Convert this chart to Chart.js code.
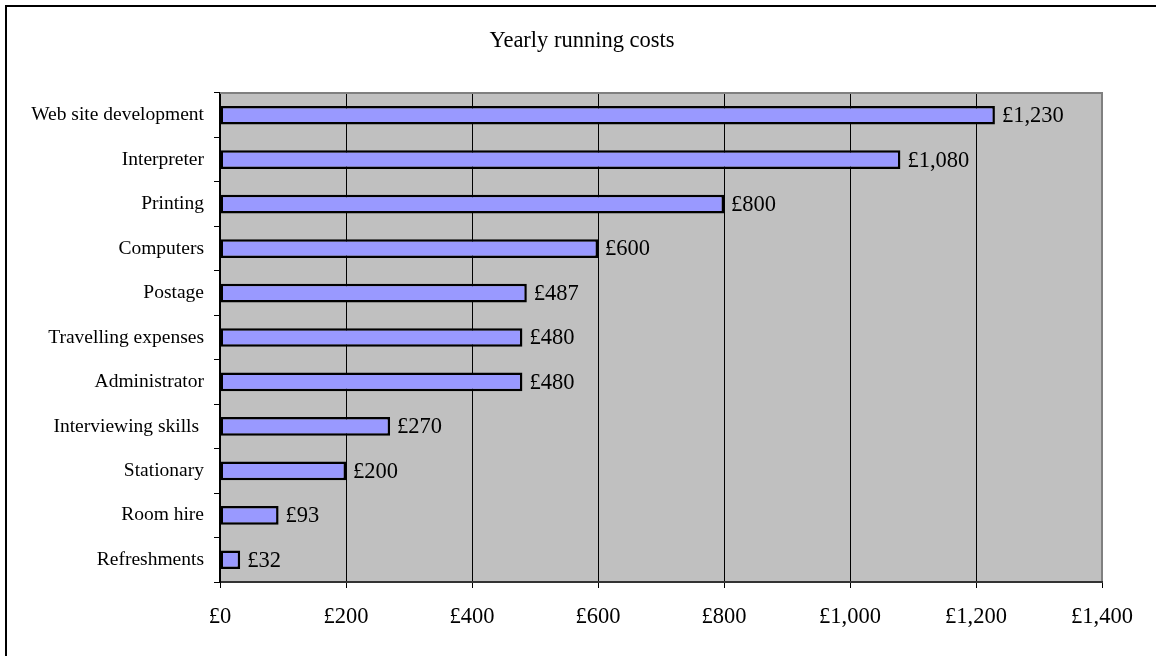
<!DOCTYPE html>
<html>
<head>
<meta charset="utf-8">
<script src="https://cdn.jsdelivr.net/npm/chart.js@4.4.1/dist/chart.umd.min.js"></script>
<style>
  html, body { margin: 0; padding: 0; background: #fff; }
  #wrap { width: 1156px; height: 656px; position: relative; }
</style>
</head>
<body>
<div id="wrap"><canvas id="costs"></canvas></div>
<script>
const chartTitle = 'Yearly running costs';
const categories = [
  'Web site development', 'Interpreter', 'Printing', 'Computers', 'Postage',
  'Travelling expenses', 'Administrator', 'Interviewing skills ', 'Stationary',
  'Room hire', 'Refreshments'
];
const costs = [1230, 1080, 800, 600, 487, 480, 480, 270, 200, 93, 32];
const xTicks = [0, 200, 400, 600, 800, 1000, 1200, 1400];

const SERIF = '"Liberation Serif", "Times New Roman", serif';
const money = v => '£' + Number(v).toLocaleString('en-GB');

// white page, the frame lines, grey plot fill and title
const frame = {
  id: 'frame',
  beforeDraw(chart) {
    const { ctx, chartArea: a } = chart;
    ctx.save();
    ctx.fillStyle = '#fff';
    ctx.fillRect(0, 0, chart.width, chart.height);
    ctx.strokeStyle = '#000';
    ctx.lineWidth = 2;
    ctx.beginPath();
    ctx.moveTo(6, chart.height);
    ctx.lineTo(6, 6);
    ctx.lineTo(chart.width, 6);
    ctx.stroke();
    ctx.fillStyle = '#c0c0c0';
    ctx.fillRect(a.left, a.top, a.right - a.left, a.bottom - a.top);
    ctx.fillStyle = '#000';
    ctx.font = '22.5px ' + SERIF;
    ctx.textAlign = 'center';
    ctx.textBaseline = 'middle';
    ctx.fillText(chartTitle, 582, 41);
    ctx.restore();
  },
  afterDraw(chart) {
    const { ctx, chartArea: a } = chart;
    ctx.save();
    ctx.strokeStyle = '#808080';
    ctx.lineWidth = 2;
    ctx.beginPath();
    ctx.moveTo(a.left, a.top);
    ctx.lineTo(a.right, a.top);
    ctx.lineTo(a.right, a.bottom - 1);
    ctx.stroke();
    ctx.restore();
  }
};

// value labels at the end of each bar
const barLabels = {
  id: 'barLabels',
  afterDatasetsDraw(chart) {
    const { ctx } = chart;
    const meta = chart.getDatasetMeta(0);
    ctx.save();
    ctx.fillStyle = '#000';
    ctx.font = '22.5px ' + SERIF;
    ctx.textAlign = 'left';
    ctx.textBaseline = 'middle';
    meta.data.forEach((bar, i) => {
      ctx.fillText(money(costs[i]), bar.x + 7, bar.y + 1);
    });
    ctx.restore();
  }
};

Chart.defaults.font.family = SERIF;
Chart.defaults.color = '#000';

new Chart(document.getElementById('costs'), {
  type: 'bar',
  data: {
    labels: categories,
    datasets: [{
      data: costs,
      backgroundColor: '#9999ff',
      borderColor: '#000',
      borderWidth: 2.5,
      borderSkipped: false,
      barPercentage: 0.42,
      categoryPercentage: 1
    }]
  },
  options: {
    indexAxis: 'y',
    responsive: true,
    maintainAspectRatio: false,
    animation: false,
    layout: { padding: { left: 0, top: 93, right: 54, bottom: 0 } },
    plugins: {
      legend: { display: false },
      title: { display: false },
      tooltip: { enabled: false }
    },
    scales: {
      x: {
        min: 0,
        max: 1400,
        afterBuildTicks: s => { s.ticks = xTicks.map(v => ({ value: v })); },
        afterFit: s => { s.height = 74; },
        ticks: {
          font: { size: 22.5 },
          padding: 16,
          maxRotation: 0,
          callback: v => money(v)
        },
        grid: { color: '#000', lineWidth: 1, tickLength: 6, tickColor: '#000' },
        border: { color: '#333', width: 2 }
      },
      y: {
        afterFit: s => { s.width = 220; },
        ticks: { font: { size: 19.5 }, padding: 10, autoSkip: false },
        grid: { offset: true, drawOnChartArea: false, tickLength: 6, color: '#000' },
        border: { color: '#000', width: 2 }
      }
    }
  },
  plugins: [frame, barLabels]
});
</script>
</body>
</html>
